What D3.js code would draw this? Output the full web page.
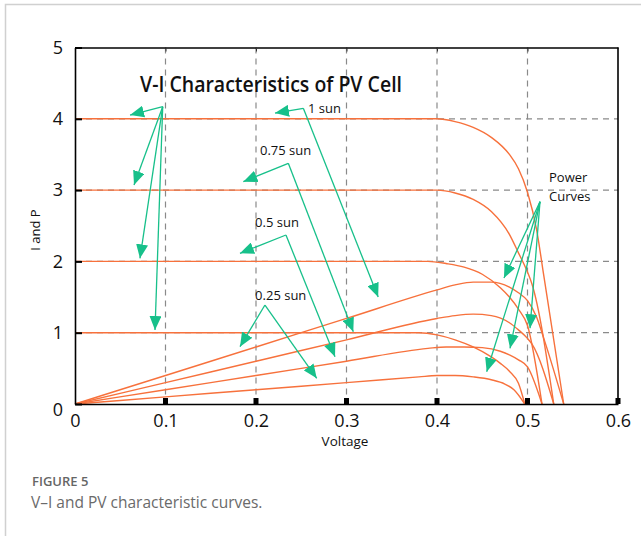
<!DOCTYPE html>
<html>
<head>
<meta charset="utf-8">
<script src="https://cdn.jsdelivr.net/npm/d3@7"></script>
<style>
  body { margin: 0; background: #fff; }
  text { font-family: "Open Sans", sans-serif; }
</style>
</head>
<body>
<div id="chart"></div>
<script>
// tick values
var voltageTicks = [0, 0.1, 0.2, 0.3, 0.4, 0.5, 0.6];
var currentTicks = [0, 1, 2, 3, 4, 5];

// I-V curves, [voltage, current]
var ivSun100 = [[0, 4], [0.40, 4], [0.42, 3.96], [0.44, 3.88], [0.46, 3.74], [0.48, 3.5], [0.49, 3.3], [0.50, 2.97], [0.51, 2.45], [0.518, 1.8], [0.54, 0]];
var ivSun75 = [[0, 3], [0.40, 3], [0.42, 2.96], [0.44, 2.87], [0.46, 2.70], [0.48, 2.38], [0.49, 2.12], [0.50, 1.85], [0.505, 1.68], [0.529, 0]];
var ivSun50 = [[0, 2], [0.39, 2], [0.41, 1.97], [0.43, 1.92], [0.45, 1.82], [0.47, 1.63], [0.48, 1.50], [0.49, 1.33], [0.50, 1.1], [0.516, 0]];
var ivSun25 = [[0, 1], [0.38, 1], [0.40, 0.97], [0.42, 0.9], [0.44, 0.8], [0.46, 0.66], [0.47, 0.57], [0.48, 0.46], [0.49, 0.29], [0.497, 0]];

// power curves, [voltage, power]
var pSun100 = [[0, 0], [0.1, 0.4], [0.2, 0.8], [0.3, 1.2], [0.40, 1.6], [0.42, 1.67], [0.44, 1.71], [0.46, 1.71], [0.48, 1.64], [0.49, 1.56], [0.50, 1.45], [0.51, 1.22], [0.518, 0.92], [0.54, 0]];
var pSun75 = [[0, 0], [0.1, 0.3], [0.2, 0.6], [0.3, 0.9], [0.40, 1.2], [0.42, 1.24], [0.44, 1.26], [0.46, 1.24], [0.48, 1.14], [0.49, 1.04], [0.50, 0.92], [0.505, 0.84], [0.529, 0]];
var pSun50 = [[0, 0], [0.1, 0.2], [0.2, 0.4], [0.3, 0.6], [0.39, 0.78], [0.41, 0.80], [0.43, 0.80], [0.45, 0.79], [0.47, 0.74], [0.48, 0.69], [0.49, 0.62], [0.50, 0.52], [0.516, 0]];
var pSun25 = [[0, 0], [0.1, 0.1], [0.2, 0.2], [0.3, 0.3], [0.38, 0.38], [0.40, 0.40], [0.42, 0.40], [0.44, 0.38], [0.46, 0.34], [0.475, 0.28], [0.485, 0.2], [0.497, 0]];

var curves = [ivSun100, ivSun75, ivSun50, ivSun25, pSun100, pSun75, pSun50, pSun25];

// annotation callouts, in data units
var callouts = [
  { text: ["1 sun"], at: [0.2575, 4.08], from: [0.2523, 4.147], to: [[0.221, 4.08], [0.335, 1.50]] },
  { text: ["0.75 sun"], at: [0.2044, 3.49], from: [0.2357, 3.376], to: [[0.186, 3.118], [0.3075, 1.014]] },
  { text: ["0.5 sun"], at: [0.199, 2.48], from: [0.2331, 2.370], to: [[0.1823, 2.114], [0.2873, 0.663]] },
  { text: ["0.25 sun"], at: [0.199, 1.459], from: [0.2099, 1.388], to: [[0.1823, 0.804], [0.2671, 0.360]] },
  { text: [], at: [0, 0], from: [0.0969, 4.170], to: [[0.0608, 4.053], [0.0652, 3.072], [0.0718, 2.043], [0.0884, 1.038]] },
  { text: ["Power", "Curves"], at: [0.5238, 3.12], from: [0.5138, 2.837], to: [[0.474, 1.767], [0.5028, 1.062], [0.4807, 0.781], [0.4549, 0.453]] }
];

var width = 641, height = 536;
var orange = "#f7713c", green = "#17c08a";

var svg = d3.select("#chart").append("svg")
  .attr("width", width)
  .attr("height", height);

svg.append("rect").attr("width", width).attr("height", height).attr("fill", "#fff");

// card frame
svg.append("path")
  .attr("d", "M5.5,536 L5.5,4.5 L641,4.5")
  .attr("fill", "none")
  .attr("stroke", "#d0d0d0")
  .attr("stroke-width", 1.5);

var x = d3.scaleLinear().domain([0, 0.6]).range([75, 618]);
var y = d3.scaleLinear().domain([0, 5]).range([404, 47.5]);

// dashed grid
svg.append("g").selectAll("line")
  .data(voltageTicks.slice(1, 6))
  .join("line")
  .attr("x1", d => x(d)).attr("x2", d => x(d))
  .attr("y1", y(5)).attr("y2", y(0))
  .attr("stroke", "#8a8a8a")
  .attr("stroke-width", 1.2)
  .attr("stroke-dasharray", "6,5");

svg.append("g").selectAll("line")
  .data(currentTicks.slice(1, 5))
  .join("line")
  .attr("x1", x(0)).attr("x2", x(0.6))
  .attr("y1", d => y(d)).attr("y2", d => y(d))
  .attr("stroke", "#8a8a8a")
  .attr("stroke-width", 1.2)
  .attr("stroke-dasharray", "6,5");

// curves
var line = d3.line()
  .x(d => x(d[0]))
  .y(d => y(d[1]))
  .curve(d3.curveMonotoneX);

svg.append("g").selectAll("path")
  .data(curves)
  .join("path")
  .attr("d", line)
  .attr("fill", "none")
  .attr("stroke", orange)
  .attr("stroke-width", 1.4);

// axes
var xAxis = svg.append("g")
  .attr("transform", "translate(0," + y(0) + ")")
  .call(d3.axisBottom(x).tickValues(voltageTicks).tickSize(0).tickPadding(10)
    .tickFormat(d => d === 0 ? "0" : d3.format(".1f")(d)));
xAxis.select(".domain").attr("stroke", "#000").attr("stroke-width", 1.6);
xAxis.selectAll("text").attr("font-size", 18).attr("fill", "#111");

svg.append("g").selectAll("rect")
  .data(voltageTicks.slice(1))
  .join("rect")
  .attr("x", d => x(d) - 2.5)
  .attr("y", y(0) - 6)
  .attr("width", 5)
  .attr("height", 6)
  .attr("fill", "#000");

var yAxis = svg.append("g")
  .attr("transform", "translate(" + x(0) + ",0)")
  .call(d3.axisLeft(y).tickValues(currentTicks).tickSizeInner(-7).tickSizeOuter(0).tickPadding(12)
    .tickFormat(d3.format("d")));
yAxis.select(".domain").attr("stroke", "#000").attr("stroke-width", 1.6);
yAxis.selectAll(".tick line").attr("stroke", "#000").attr("stroke-width", 2);
yAxis.selectAll("text").attr("font-size", 18).attr("fill", "#111");
yAxis.selectAll(".tick").filter(d => d === 0).select("text").attr("dy", "0.85em").attr("y", -4);

var topAxis = svg.append("g")
  .attr("transform", "translate(0," + y(5) + ")")
  .call(d3.axisTop(x).tickValues(voltageTicks.slice(1, 6)).tickSizeInner(-4).tickSizeOuter(0).tickFormat(""));
topAxis.select(".domain").attr("stroke", "#000").attr("stroke-width", 1.6);
topAxis.selectAll(".tick line").attr("stroke", "#333");

svg.append("line")
  .attr("x1", x(0.6)).attr("x2", x(0.6))
  .attr("y1", y(5)).attr("y2", y(0))
  .attr("stroke", "#000")
  .attr("stroke-width", 1.6);

// axis titles
svg.append("text")
  .attr("x", 345).attr("y", 446)
  .attr("text-anchor", "middle")
  .attr("font-size", 13.5)
  .attr("fill", "#111")
  .text("Voltage");

svg.append("text")
  .attr("transform", "translate(40,230) rotate(-90)")
  .attr("text-anchor", "middle")
  .attr("font-size", 13)
  .attr("fill", "#111")
  .text("I and P");

// chart title
svg.append("text")
  .attr("x", 140).attr("y", 92)
  .attr("font-size", 21)
  .attr("font-weight", 600)
  .attr("fill", "#111")
  .attr("textLength", 262)
  .attr("lengthAdjust", "spacingAndGlyphs")
  .text("V-I Characteristics of PV Cell");

// arrows
svg.append("defs").append("marker")
  .attr("id", "head")
  .attr("markerUnits", "userSpaceOnUse")
  .attr("viewBox", "0 0 14 12")
  .attr("markerWidth", 14)
  .attr("markerHeight", 12)
  .attr("refX", 14)
  .attr("refY", 6)
  .attr("orient", "auto")
  .append("path")
  .attr("d", "M0,0 L14,6 L0,12 Z")
  .attr("fill", green);

callouts.forEach(function (c) {
  var g = svg.append("g");
  c.to.forEach(function (t) {
    g.append("line")
      .attr("x1", x(c.from[0])).attr("y1", y(c.from[1]))
      .attr("x2", x(t[0])).attr("y2", y(t[1]))
      .attr("stroke", green)
      .attr("stroke-width", 1.3)
      .attr("marker-end", "url(#head)");
  });
  c.text.forEach(function (s, i) {
    g.append("text")
      .attr("x", x(c.at[0]))
      .attr("y", y(c.at[1]) + i * 19)
      .attr("font-size", 13)
      .attr("fill", "#111")
      .text(s);
  });
});

// caption
svg.append("text")
  .attr("x", 32).attr("y", 486)
  .attr("font-size", 13)
  .attr("font-weight", 600)
  .attr("fill", "#666")
  .text("FIGURE 5");

svg.append("text")
  .attr("x", 31).attr("y", 508)
  .attr("font-size", 15.5)
  .attr("fill", "#6a6a6a")
  .text("V\u2013I and PV characteristic curves.");
</script>
</body>
</html>
